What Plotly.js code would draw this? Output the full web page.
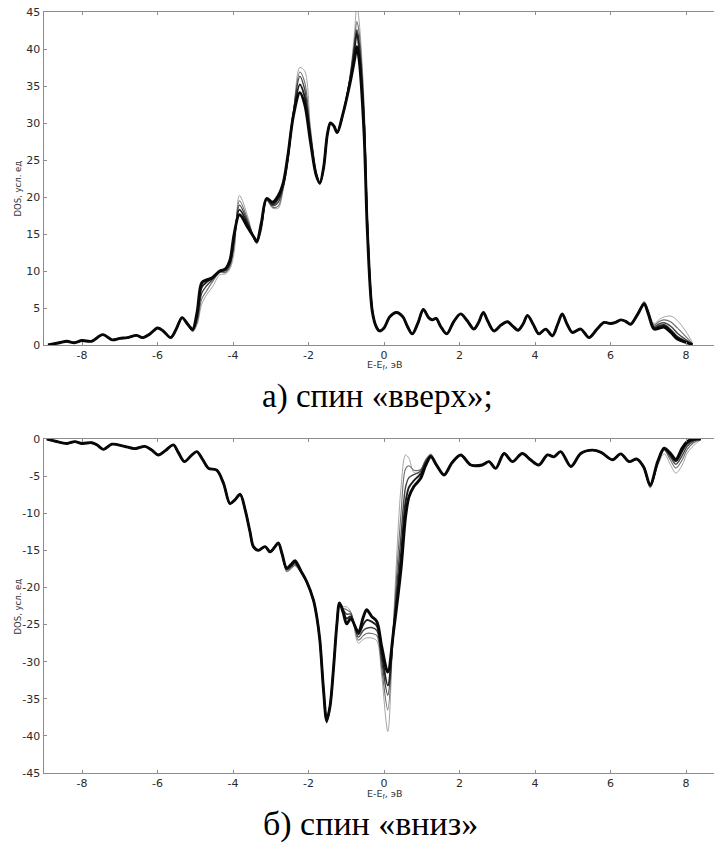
<!DOCTYPE html>
<html>
<head>
<meta charset="utf-8">
<script src="https://cdn.plot.ly/plotly-3.0.1.min.js"></script>
<style>html,body{margin:0;padding:0;background:#fff;}#chart{width:714px;height:843px;}</style>
</head>
<body>
<div id="chart"></div>
<script>
// ---- Spin up (top panel) ----
const xUp = [
 -8.9,-8.6,-8.4,-8.2,-8.0,-7.75,-7.45,-7.2,-7.0,-6.8,
 -6.55,-6.4,-6.2,-6.0,-5.85,-5.65,-5.5,-5.35,-5.2,-5.07,
 -4.95,-4.83,-4.7,-4.55,-4.35,-4.2,-4.08,-3.97,-3.83,-3.6,
 -3.45,-3.37,-3.25,-3.11,-2.95,-2.8,-2.67,-2.55,-2.4,-2.23,
 -2.1,-1.95,-1.8,-1.7,-1.6,-1.5,-1.42,-1.33,-1.24,-1.1,
 -0.9,-0.78,-0.72,-0.66,-0.53,-0.44,-0.31,-0.2,-0.12,0.0,
 0.15,0.33,0.5,0.62,0.75,0.9,1.04,1.18,1.28,1.38,
 1.5,1.66,1.85,2.03,2.2,2.38,2.5,2.63,2.75,2.91,
 3.1,3.27,3.4,3.55,3.68,3.8,3.95,4.1,4.28,4.46,
 4.6,4.72,4.85,4.99,5.21,5.43,5.65,5.83,5.99,6.15,
 6.27,6.4,6.53,6.7,6.89,7.0,7.15,7.3,7.42,7.6,
 7.77,8.0,8.17];
const upA = [
 0,0.3,0.5,0.3,0.6,0.5,1.4,0.7,0.9,1.0,
 1.3,1.0,1.5,2.3,1.9,1.0,2.2,3.7,2.8,2.1,
 4.5,8.4,8.8,9.1,10.0,10.3,11.5,15.0,17.6,15.8,
 14.6,14.0,16.5,19.8,19.3,20.2,21.9,25.5,31.0,34.1,
 32.5,27.5,23.0,21.9,24.0,28.5,30.0,29.6,28.7,31.0,
 35.4,38.6,40.3,38.6,28.7,15.2,4.5,2.4,1.9,2.3,
 3.8,4.4,3.8,2.5,1.5,3.0,4.8,3.7,3.4,3.6,
 2.5,1.5,3.2,4.2,3.3,2.15,3.0,4.4,3.2,1.9,
 2.7,3.15,2.6,2.0,2.8,4.0,2.8,1.5,2.15,1.25,
 2.8,4.2,2.8,1.7,2.15,1.0,2.2,3.05,2.9,3.1,
 3.4,3.2,2.8,4.0,5.5,4.2,2.15,2.3,2.4,1.7,
 0.8,0.35,0.05];
const upB = [
 0,0.3,0.5,0.3,0.6,0.5,1.4,0.7,0.9,1.0,
 1.3,1.0,1.5,2.3,1.9,1.0,2.2,3.7,2.8,2.05,
 4.0,7.8,8.5,9.0,10.0,10.2,11.2,14.5,18.3,16.2,
 14.6,13.9,16.3,19.8,19.0,19.8,21.7,25.3,31.3,35.2,
 33.5,28.0,23.0,21.8,24.0,28.5,30.0,29.6,28.7,31.0,
 35.8,40.0,42.2,40.0,30.0,16.0,4.6,2.4,1.9,2.3,
 3.8,4.4,3.8,2.5,1.5,3.0,4.8,3.7,3.4,3.6,
 2.5,1.5,3.2,4.2,3.3,2.15,3.0,4.4,3.2,1.9,
 2.7,3.15,2.6,2.0,2.8,4.0,2.8,1.5,2.15,1.25,
 2.8,4.2,2.8,1.7,2.15,1.0,2.2,3.05,2.9,3.1,
 3.4,3.2,2.8,4.0,5.6,4.3,2.3,2.6,2.7,2.0,
 1.1,0.45,0.05];
const upC = [
 0,0.3,0.5,0.3,0.6,0.5,1.4,0.7,0.9,1.0,
 1.3,1.0,1.5,2.3,1.9,1.0,2.2,3.7,2.8,1.95,
 3.5,7.0,8.0,8.8,9.9,10.0,10.9,14.0,18.9,16.5,
 14.5,13.8,16.0,19.7,18.8,19.3,21.5,25.0,31.5,36.3,
 34.5,28.5,23.2,21.8,24.0,28.5,30.0,29.6,28.7,31.0,
 36.0,40.4,42.6,41.0,31.0,16.5,4.7,2.4,1.9,2.3,
 3.8,4.4,3.8,2.5,1.5,3.0,4.8,3.7,3.4,3.6,
 2.5,1.5,3.2,4.2,3.3,2.15,3.0,4.4,3.2,1.9,
 2.7,3.15,2.6,2.0,2.8,4.0,2.8,1.5,2.15,1.25,
 2.8,4.2,2.8,1.7,2.15,1.0,2.2,3.05,2.9,3.1,
 3.4,3.2,2.8,4.0,5.7,4.4,2.5,2.9,3.0,2.5,
 1.6,0.7,0.1];
const upD = [
 0,0.3,0.5,0.3,0.6,0.5,1.4,0.7,0.9,1.0,
 1.3,1.0,1.5,2.3,1.9,1.0,2.2,3.7,2.8,1.85,
 3.0,6.2,7.3,8.5,9.8,9.8,10.6,13.3,19.5,16.8,
 14.4,13.8,15.7,19.6,18.6,18.8,21.2,24.7,31.5,36.9,
 35.5,29.0,23.4,21.8,24.0,28.5,30.0,29.6,28.7,31.0,
 36.3,41.3,43.7,42.2,32.0,17.0,4.8,2.4,1.9,2.3,
 3.8,4.4,3.8,2.5,1.5,3.0,4.8,3.7,3.4,3.6,
 2.5,1.5,3.2,4.2,3.3,2.15,3.0,4.4,3.2,1.9,
 2.7,3.15,2.6,2.0,2.8,4.0,2.8,1.5,2.15,1.25,
 2.8,4.2,2.8,1.7,2.15,1.0,2.2,3.05,2.9,3.1,
 3.4,3.2,2.8,4.0,5.8,4.6,2.7,3.2,3.4,3.1,
 2.3,1.1,0.2];
const upE = [
 0,0.3,0.5,0.3,0.6,0.5,1.4,0.7,0.9,1.0,
 1.3,1.0,1.5,2.3,1.9,1.0,2.2,3.7,2.8,1.8,
 2.8,5.5,6.8,7.8,9.5,9.6,10.3,12.5,20.2,17.2,
 14.3,13.7,15.4,19.5,18.5,18.5,21.0,24.5,31.2,37.5,
 37.0,29.5,23.6,21.8,24.0,28.5,30.0,29.6,28.7,31.0,
 36.5,42.3,46.0,43.8,33.0,17.5,4.9,2.4,1.9,2.3,
 3.8,4.4,3.8,2.5,1.5,3.0,4.8,3.7,3.4,3.6,
 2.5,1.5,3.2,4.2,3.3,2.15,3.0,4.4,3.2,1.9,
 2.7,3.15,2.6,2.0,2.8,4.0,2.8,1.5,2.15,1.25,
 2.8,4.2,2.8,1.7,2.15,1.0,2.2,3.05,2.9,3.1,
 3.4,3.2,2.8,4.0,5.9,4.8,2.9,3.5,3.8,3.9,
 3.3,1.8,0.3];

// ---- Spin down (bottom panel) ----
const xDn = [
 -8.93,-8.7,-8.4,-8.19,-8.0,-7.74,-7.6,-7.43,-7.21,-6.9,
 -6.6,-6.33,-6.15,-5.98,-5.8,-5.58,-5.45,-5.29,-5.1,-4.96,
 -4.8,-4.65,-4.43,-4.25,-4.08,-3.95,-3.81,-3.68,-3.55,-3.46,
 -3.33,-3.15,-3.02,-2.9,-2.8,-2.7,-2.58,-2.46,-2.36,-2.2,
 -2.05,-1.87,-1.78,-1.7,-1.6,-1.52,-1.43,-1.34,-1.25,-1.18,
 -1.08,-0.99,-0.88,-0.68,-0.55,-0.46,-0.33,-0.19,-0.06,0.1,
 0.25,0.45,0.57,0.66,0.79,0.97,1.1,1.24,1.4,1.59,
 1.8,2.03,2.3,2.6,2.78,2.96,3.18,3.4,3.66,3.88,
 4.1,4.33,4.5,4.68,4.95,5.21,5.52,5.75,6.05,6.27,
 6.49,6.7,6.88,7.05,7.25,7.42,7.58,7.73,7.9,8.03,
 8.2,8.39];
const dnA = [
 0,-0.3,-0.6,-0.35,-0.6,-0.5,-0.8,-1.4,-0.7,-0.95,
 -1.3,-1.0,-1.5,-2.15,-1.6,-0.8,-1.8,-3.05,-2.2,-1.7,
 -2.8,-3.95,-4.2,-6.0,-8.7,-8.2,-7.45,-9.5,-12.5,-14.5,
 -15.0,-14.5,-15.2,-14.6,-14.0,-15.5,-17.4,-16.9,-16.4,-17.8,
 -19.2,-21.7,-24.0,-27.1,-34.0,-37.9,-36.0,-31.0,-25.0,-22.1,
 -23.4,-24.9,-24.2,-26.0,-24.0,-23.0,-23.9,-24.6,-28.0,-31.4,
 -26.0,-17.5,-10.5,-7.8,-6.4,-5.3,-3.6,-2.4,-3.6,-4.85,
 -3.2,-2.15,-3.5,-3.5,-3.05,-3.95,-1.95,-3.05,-1.95,-2.8,
 -3.5,-2.15,-2.4,-1.7,-3.7,-1.95,-1.5,-1.8,-2.8,-2.0,
 -3.05,-2.7,-3.8,-6.2,-3.0,-1.25,-1.9,-2.75,-1.2,-0.35,
 0,0];
const dnB = [
 0,-0.3,-0.6,-0.35,-0.6,-0.5,-0.8,-1.4,-0.7,-0.95,
 -1.3,-1.0,-1.5,-2.15,-1.6,-0.8,-1.8,-3.05,-2.2,-1.7,
 -2.8,-3.95,-4.2,-6.0,-8.7,-8.2,-7.45,-9.5,-12.5,-14.5,
 -15.0,-14.5,-15.2,-14.6,-14.0,-15.5,-17.5,-17.0,-16.6,-17.8,
 -19.2,-21.7,-24.0,-27.1,-34.0,-38.2,-36.0,-31.0,-25.0,-22.1,
 -23.2,-24.2,-23.9,-26.3,-25.0,-24.4,-24.6,-25.2,-29.0,-33.2,
 -26.0,-15.5,-8.5,-6.5,-5.6,-4.7,-3.3,-2.3,-3.6,-4.85,
 -3.2,-2.15,-3.5,-3.5,-3.05,-3.95,-1.95,-3.05,-1.95,-2.8,
 -3.5,-2.15,-2.4,-1.7,-3.7,-1.95,-1.5,-1.8,-2.8,-2.0,
 -3.05,-2.7,-3.8,-6.3,-3.1,-1.3,-2.1,-3.0,-1.6,-0.6,
 -0.1,0];
const dnC = [
 0,-0.3,-0.6,-0.35,-0.6,-0.5,-0.8,-1.4,-0.7,-0.95,
 -1.3,-1.0,-1.5,-2.15,-1.6,-0.8,-1.8,-3.05,-2.2,-1.7,
 -2.8,-3.95,-4.2,-6.0,-8.7,-8.2,-7.45,-9.5,-12.5,-14.5,
 -15.0,-14.5,-15.2,-14.6,-14.0,-15.5,-17.6,-17.2,-16.8,-17.9,
 -19.2,-21.7,-24.0,-27.1,-34.0,-37.8,-36.0,-31.0,-25.0,-22.1,
 -23.0,-23.6,-23.6,-26.7,-25.8,-25.5,-25.4,-25.8,-30.0,-34.5,
 -25.5,-13.0,-6.5,-5.2,-4.8,-4.3,-3.0,-2.2,-3.6,-4.85,
 -3.2,-2.15,-3.5,-3.5,-3.05,-3.95,-1.95,-3.05,-1.95,-2.8,
 -3.5,-2.15,-2.4,-1.7,-3.7,-1.95,-1.5,-1.8,-2.8,-2.0,
 -3.05,-2.7,-3.8,-6.4,-3.2,-1.4,-2.4,-3.4,-2.2,-1.0,
 -0.3,0];
const dnD = [
 0,-0.3,-0.6,-0.35,-0.6,-0.5,-0.8,-1.4,-0.7,-0.95,
 -1.3,-1.0,-1.5,-2.15,-1.6,-0.8,-1.8,-3.05,-2.2,-1.7,
 -2.8,-3.95,-4.2,-6.0,-8.7,-8.2,-7.45,-9.5,-12.5,-14.5,
 -15.0,-14.5,-15.2,-14.6,-14.0,-15.5,-17.8,-17.4,-17.0,-18.0,
 -19.2,-21.7,-24.0,-27.1,-34.0,-37.5,-36.0,-31.0,-25.0,-22.1,
 -22.8,-23.0,-23.4,-27.1,-26.5,-26.2,-26.2,-26.5,-31.0,-36.5,
 -25.0,-10.0,-4.0,-3.6,-4.2,-4.1,-2.8,-2.1,-3.6,-4.85,
 -3.2,-2.15,-3.5,-3.5,-3.05,-3.95,-1.95,-3.05,-1.95,-2.8,
 -3.5,-2.15,-2.4,-1.7,-3.7,-1.95,-1.5,-1.8,-2.8,-2.0,
 -3.05,-2.7,-3.8,-6.5,-3.4,-1.5,-2.8,-3.9,-2.8,-1.4,
 -0.5,-0.05];
const dnE = [
 0,-0.3,-0.6,-0.35,-0.6,-0.5,-0.8,-1.4,-0.7,-0.95,
 -1.3,-1.0,-1.5,-2.15,-1.6,-0.8,-1.8,-3.05,-2.2,-1.7,
 -2.8,-3.95,-4.2,-6.0,-8.7,-8.2,-7.45,-9.5,-12.5,-14.5,
 -15.0,-14.5,-15.2,-14.6,-14.0,-15.5,-17.9,-17.5,-17.1,-18.0,
 -19.2,-21.7,-24.0,-27.1,-34.0,-37.2,-36.0,-31.0,-25.0,-22.1,
 -22.6,-22.6,-23.3,-27.5,-27.0,-26.8,-26.8,-27.2,-32.0,-39.4,
 -24.5,-6.5,-2.15,-2.6,-4.5,-4.6,-3.0,-2.0,-3.6,-4.85,
 -3.2,-2.15,-3.5,-3.5,-3.05,-3.95,-1.95,-3.05,-1.95,-2.8,
 -3.5,-2.15,-2.4,-1.7,-3.7,-1.95,-1.5,-1.8,-2.8,-2.0,
 -3.05,-2.7,-3.8,-6.6,-3.6,-2.0,-3.4,-4.6,-3.5,-1.9,
 -0.9,-0.1];

const xTicks = [-8,-6,-4,-2,0,2,4,6,8];
const yTicksUp = [0,5,10,15,20,25,30,35,40,45];
const yTicksDn = [0,-5,-10,-15,-20,-25,-30,-35,-40,-45];
const yTitle = 'DOS, усл. ед';
const xTitle = 'E-E<sub>f</sub>, эВ';
const capUp = 'а) спин «вверх»;';
const capDn = 'б) спин «вниз»';

// line styles: lightest drawn first, thickest last
const styles = [
  {color:'#9a9a9a', width:0.9},
  {color:'#6e6e6e', width:1.1},
  {color:'#444444', width:1.4},
  {color:'#1e1e1e', width:1.9},
  {color:'#080808', width:2.9}
];
const upSeries = [upE, upD, upC, upB, upA];
const dnSeries = [dnE, dnD, dnC, dnB, dnA];

const traces = [];
upSeries.forEach((ys,i)=>traces.push({x:xUp, y:ys, type:'scatter', mode:'lines',
  line:{color:styles[i].color, width:styles[i].width, shape:'spline', smoothing:0.9},
  xaxis:'x', yaxis:'y', hoverinfo:'skip', showlegend:false}));
dnSeries.forEach((ys,i)=>traces.push({x:xDn, y:ys, type:'scatter', mode:'lines',
  line:{color:styles[i].color, width:styles[i].width, shape:'spline', smoothing:0.9},
  xaxis:'x2', yaxis:'y2', hoverinfo:'skip', showlegend:false}));

const tickFont = {family:'DejaVu Sans, sans-serif', size:11, color:'#2a2a2a'};
const axColor = '#8c8c8c';
function xax(anchor, dom){
  return {domain:dom, anchor:anchor, range:[-9.02, 8.74], tickvals:xTicks,
    ticktext:xTicks.map(String), showline:true, linecolor:axColor, linewidth:1,
    mirror:'allticks', ticks:'inside', ticklen:3, tickcolor:axColor,
    showgrid:false, zeroline:false, tickfont:tickFont};
}
function yax(anchor, dom, rng, tv){
  return {domain:dom, anchor:anchor, range:rng, tickvals:tv, ticktext:tv.map(String),
    showline:true, linecolor:axColor, linewidth:1, ticks:'inside', ticklen:3,
    tickcolor:axColor, showgrid:false, zeroline:false, tickfont:tickFont};
}
const xd = [43.5/714, 1];
const layout = {
  width:714, height:843, margin:{l:0,r:0,t:0,b:0},
  paper_bgcolor:'#fff', plot_bgcolor:'#fff', showlegend:false,
  xaxis: xax('y', xd),
  yaxis: yax('x', [1-345/843, 1-12/843], [0,45], yTicksUp),
  xaxis2: xax('y2', xd),
  yaxis2: yax('x2', [1-773/843, 1-439/843], [-45,0], yTicksDn),
  annotations:[
    {text:yTitle, xref:'paper', yref:'paper', x:17.5/714, y:1-189/843, textangle:-90,
     showarrow:false, xanchor:'center', yanchor:'middle', font:{family:'DejaVu Sans', size:8.5, color:'#333'}},
    {text:yTitle, xref:'paper', yref:'paper', x:17.5/714, y:1-607/843, textangle:-90,
     showarrow:false, xanchor:'center', yanchor:'middle', font:{family:'DejaVu Sans', size:8.5, color:'#333'}},
    {text:xTitle, xref:'paper', yref:'paper', x:385/714, y:1-366/843,
     showarrow:false, xanchor:'center', yanchor:'middle', font:{family:'DejaVu Sans', size:9.5, color:'#333'}},
    {text:xTitle, xref:'paper', yref:'paper', x:385/714, y:1-794/843,
     showarrow:false, xanchor:'center', yanchor:'middle', font:{family:'DejaVu Sans', size:9.5, color:'#333'}},
    {text:capUp, xref:'paper', yref:'paper', x:377/714, y:1-396/843,
     showarrow:false, xanchor:'center', yanchor:'middle', font:{family:'Liberation Serif, Times New Roman, serif', size:33, color:'#000'}},
    {text:capDn, xref:'paper', yref:'paper', x:370/714, y:1-824/843,
     showarrow:false, xanchor:'center', yanchor:'middle', font:{family:'Liberation Serif, Times New Roman, serif', size:34, color:'#000'}}
  ]
};
Plotly.newPlot('chart', traces, layout, {staticPlot:true, displayModeBar:false});
</script>
</body>
</html>
